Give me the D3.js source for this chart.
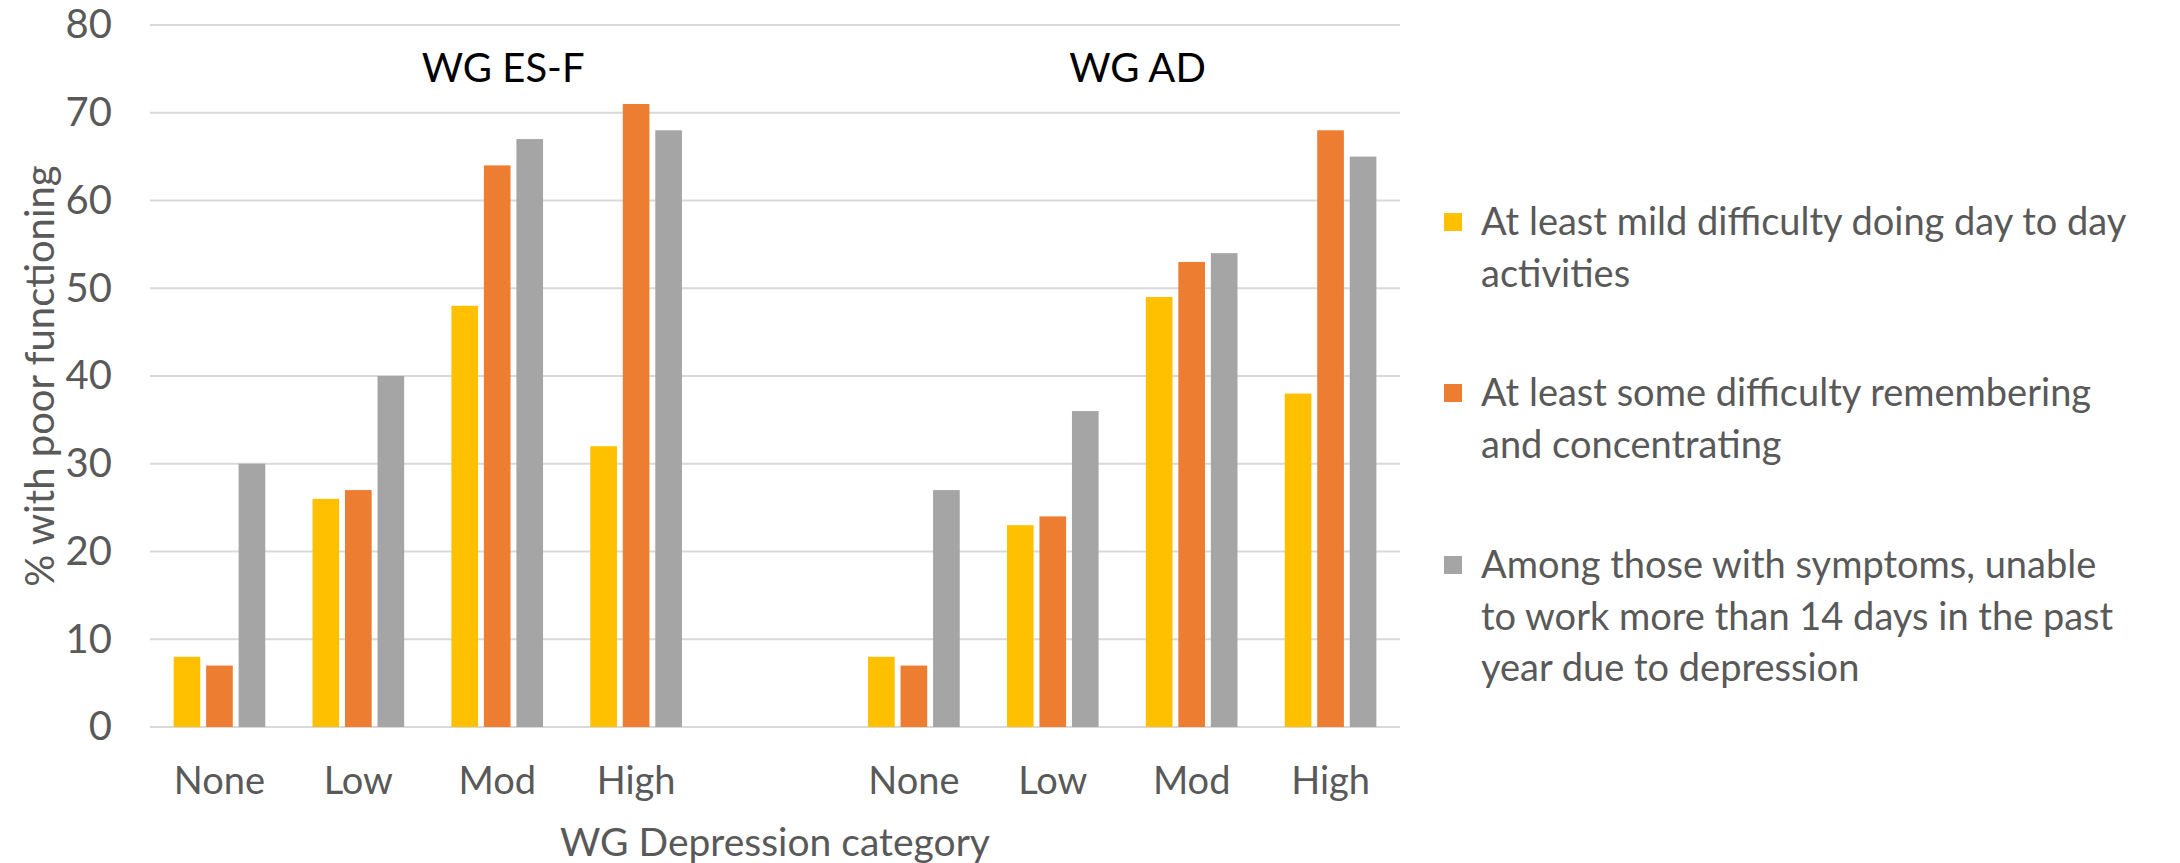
<!DOCTYPE html>
<html>
<head>
<meta charset="utf-8">
<script src="https://cdn.jsdelivr.net/npm/d3@7"></script>
<style>
  body { margin: 0; background: #fff; }
  text { font-family: Lato, "Open Sans", sans-serif; fill: #595959; }
</style>
</head>
<body>
<div id="chart"></div>
<script>
// categories: one blank slot separates the two instruments
const categories = ["None|ES", "Low|ES", "Mod|ES", "High|ES", "gap", "None|AD", "Low|AD", "Mod|AD", "High|AD"];
const groupTitles = ["WG ES-F", "WG AD"];
const seriesKeys = ["mild", "remember", "work"];
const seriesLines = [
    ["At least mild difficulty doing day to day", "activities"],
    ["At least some difficulty remembering", "and concentrating"],
    ["Among those with symptoms, unable", "to work more than 14 days in the past", "year due to depression"]
];
const mildValues     = [8, 26, 48, 32, null, 8, 23, 49, 38];
const rememberValues = [7, 27, 64, 71, null, 7, 24, 53, 68];
const workValues     = [30, 40, 67, 68, null, 27, 36, 54, 65];
const yTicks = [0, 10, 20, 30, 40, 50, 60, 70, 80];
const colors = ["#FFC000", "#ED7D31", "#A5A5A5"];

const width = 2180;
const height = 863;
const margin = { top: 25, right: 780, bottom: 136, left: 150 };

const svg = d3.select("#chart")
    .append("svg")
    .attr("width", width)
    .attr("height", height);

const xScale = d3.scaleBand()
    .domain(categories)
    .range([margin.left, width - margin.right])
    .paddingInner(0.34)
    .paddingOuter(0.17);

const xInner = d3.scaleBand()
    .domain(seriesKeys)
    .range([0, xScale.bandwidth()])
    .paddingInner(0.18);

const yScale = d3.scaleLinear()
    .domain([0, 80])
    .range([height - margin.bottom, margin.top]);

const center = c => xScale(c) + xScale.bandwidth() / 2;

// gridlines
svg.append("g")
    .selectAll("line")
    .data(yTicks)
    .enter()
    .append("line")
    .attr("x1", margin.left)
    .attr("x2", width - margin.right)
    .attr("y1", d => yScale(d))
    .attr("y2", d => yScale(d))
    .attr("stroke", "#D9D9D9")
    .attr("stroke-width", 2);

// y axis labels
const yAxis = d3.axisLeft(yScale).tickValues(yTicks).tickSize(0).tickPadding(38);
svg.append("g")
    .attr("id", "y-axis")
    .attr("transform", "translate(" + margin.left + ", 0)")
    .call(yAxis)
    .call(g => g.select(".domain").remove())
    .call(g => g.selectAll("text")
        .style("font-family", "Lato, sans-serif")
        .style("font-size", "40px")
        .attr("fill", "#595959"));

// x axis labels
const xAxis = d3.axisBottom(xScale)
    .tickSize(0)
    .tickPadding(40)
    .tickFormat(d => d === "gap" ? "" : d.split("|")[0]);
svg.append("g")
    .attr("id", "x-axis")
    .attr("transform", "translate(0, " + (height - margin.bottom) + ")")
    .call(xAxis)
    .call(g => g.select(".domain").remove())
    .call(g => g.selectAll("text")
        .style("font-family", "Lato, sans-serif")
        .style("font-size", "38px")
        .attr("fill", "#595959"));

// bars
const table = categories.map((c, i) => ({
    cat: c,
    values: [mildValues[i], rememberValues[i], workValues[i]]
}));

const groups = svg.append("g")
    .selectAll("g")
    .data(table.filter(d => d.cat !== "gap"))
    .enter()
    .append("g")
    .attr("transform", d => "translate(" + xScale(d.cat) + ",0)");

groups.selectAll("rect")
    .data(d => d.values.map((v, j) => ({ key: seriesKeys[j], value: v, color: colors[j] })))
    .enter()
    .append("rect")
    .attr("x", d => xInner(d.key))
    .attr("y", d => yScale(d.value))
    .attr("width", xInner.bandwidth())
    .attr("height", d => yScale(0) - yScale(d.value))
    .attr("fill", d => d.color);

// group titles, placed as in the original text boxes
const titleX = [
    center("Mod|ES") + 6,
    center("Low|AD") + 0.61 * (center("Mod|AD") - center("Low|AD"))
];
svg.append("g")
    .selectAll("text")
    .data(groupTitles)
    .enter()
    .append("text")
    .attr("x", (d, i) => titleX[i])
    .attr("y", 82)
    .attr("text-anchor", "middle")
    .style("font-size", "40px")
    .style("fill", "#000")
    .text(d => d);

// axis titles
svg.append("text")
    .attr("x", (margin.left + width - margin.right) / 2)
    .attr("y", 856)
    .attr("text-anchor", "middle")
    .style("font-size", "39px")
    .text("WG Depression category");

svg.append("text")
    .attr("transform", "translate(54," + yScale(40) + ") rotate(-90)")
    .attr("text-anchor", "middle")
    .style("font-size", "40px")
    .text("% with poor functioning");

// legend
const legendY = [235, 406, 578];
const legend = svg.append("g")
    .selectAll("g")
    .data(seriesLines)
    .enter()
    .append("g")
    .attr("transform", (d, i) => "translate(1444," + legendY[i] + ")");

legend.append("rect")
    .attr("x", 0)
    .attr("y", -22)
    .attr("width", 18)
    .attr("height", 18)
    .attr("fill", (d, i) => colors[i]);

legend.append("text")
    .style("font-size", "38px")
    .selectAll("tspan")
    .data(d => d)
    .enter()
    .append("tspan")
    .attr("x", 37)
    .attr("y", (d, i) => i * 51.5)
    .text(d => d);
</script>
</body>
</html>
